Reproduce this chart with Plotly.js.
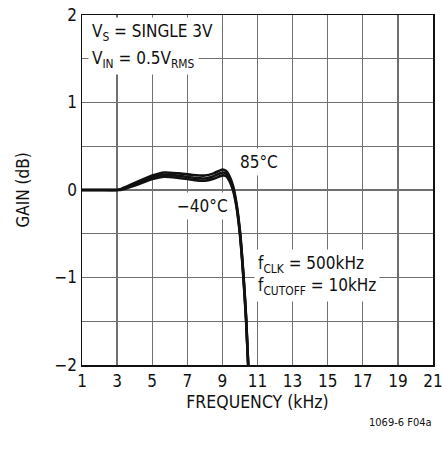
<!DOCTYPE html>
<html>
<head>
<meta charset="utf-8">
<script src="https://cdn.plot.ly/plotly-3.0.1.min.js"></script>
<style>
html,body{margin:0;padding:0;background:#fff;}
#chart{width:443px;height:450px;}
</style>
</head>
<body>
<div id="chart"></div>
<script>
// Frequency (kHz)
var freq = [1, 2, 3, 3.2, 4, 5, 5.7, 6.5, 7.3, 8, 8.5, 9.0, 9.2, 9.4, 9.6, 9.8, 10.0, 10.2, 10.35, 10.47];
// Gain (dB) at three temperatures
var gain85 = [0, 0, 0, 0.01, 0.08, 0.165, 0.2, 0.19, 0.172, 0.165, 0.19, 0.235, 0.22, 0.16, 0.05, -0.15, -0.47, -0.97, -1.45, -2];
var gain25 = [0, 0, 0, 0.005, 0.065, 0.145, 0.175, 0.162, 0.142, 0.132, 0.157, 0.2, 0.19, 0.135, 0.025, -0.17, -0.49, -0.99, -1.47, -2];
var gainM40 = [0, 0, 0, 0, 0.05, 0.125, 0.152, 0.138, 0.117, 0.106, 0.128, 0.167, 0.16, 0.105, 0.0, -0.19, -0.51, -1.01, -1.49, -2];

var xTickVals = [1, 3, 5, 7, 9, 11, 13, 15, 17, 19, 21];
var xTickText = ['1', '3', '5', '7', '9', '11', '13', '15', '17', '19', '21'];
var yTickVals = [-2, -1.5, -1, -0.5, 0, 0.5, 1, 1.5, 2];
var yTickText = ['\u22122', '', '\u22121', '', '0', '', '1', '', '2'];

var FONT = '"DejaVu Sans Condensed", "Liberation Sans Narrow", sans-serif';
var lineStyle = {color: '#111', width: 2.6, shape: 'spline', smoothing: 0.6};

var traces = [
  {x: freq, y: gain85, mode: 'lines', line: lineStyle, hoverinfo: 'skip'},
  {x: freq, y: gain25, mode: 'lines', line: lineStyle, hoverinfo: 'skip'},
  {x: freq, y: gainM40, mode: 'lines', line: lineStyle, hoverinfo: 'skip'}
];

function note(text, x, y, xanchor) {
  return {text: text, x: x, y: y, xref: 'x', yref: 'y', xanchor: xanchor, yanchor: 'middle', align: 'left',
    showarrow: false, bgcolor: '#fff', borderpad: 3, font: {family: FONT, size: 17, color: '#111'}};
}

var layout = {
  width: 443, height: 450,
  margin: {l: 82, r: 10, t: 15, b: 85},
  paper_bgcolor: '#fff', plot_bgcolor: '#fff',
  showlegend: false,
  font: {family: FONT, size: 17, color: '#111'},
  xaxis: {
    range: [1, 21], tickvals: xTickVals, ticktext: xTickText,
    showgrid: true, gridcolor: '#707070', gridwidth: 1.3,
    zeroline: false, showline: true, mirror: true, linecolor: '#111', linewidth: 1.5,
    ticks: '', tickfont: {family: FONT, size: 17, color: '#111'},
    title: {text: 'FREQUENCY (kHz)', font: {family: FONT, size: 17.5, color: '#111'}, standoff: 6}
  },
  yaxis: {
    range: [-2, 2], tickvals: yTickVals, ticktext: yTickText,
    showgrid: true, gridcolor: '#707070', gridwidth: 1.3,
    zeroline: false, showline: true, mirror: true, linecolor: '#111', linewidth: 1.5,
    ticks: '', tickfont: {family: FONT, size: 17, color: '#111'},
    title: {text: 'GAIN (dB)', font: {family: FONT, size: 17, color: '#111'}, standoff: 20}
  },
  annotations: [
    note('V<sub>S</sub> = SINGLE 3V', 1.35, 1.8, 'left'),
    note('V<sub>IN</sub> = 0.5V<sub>RMS</sub>', 1.35, 1.49, 'left'),
    note('85°C', 11.1, 0.32, 'center'),
    note('\u221240°C', 7.84, -0.18, 'center'),
    note('f<sub>CLK</sub> = 500kHz<br>f<sub>CUTOFF</sub> = 10kHz', 10.8, -0.98, 'left'),
    {text: '1069-6 F04a', xref: 'paper', yref: 'paper', x: 1.003, y: -0.163, xanchor: 'right', yanchor: 'middle',
     showarrow: false, font: {family: FONT, size: 11, color: '#111'}}
  ]
};

Plotly.newPlot('chart', traces, layout, {staticPlot: true, displayModeBar: false});
</script>
</body>
</html>
